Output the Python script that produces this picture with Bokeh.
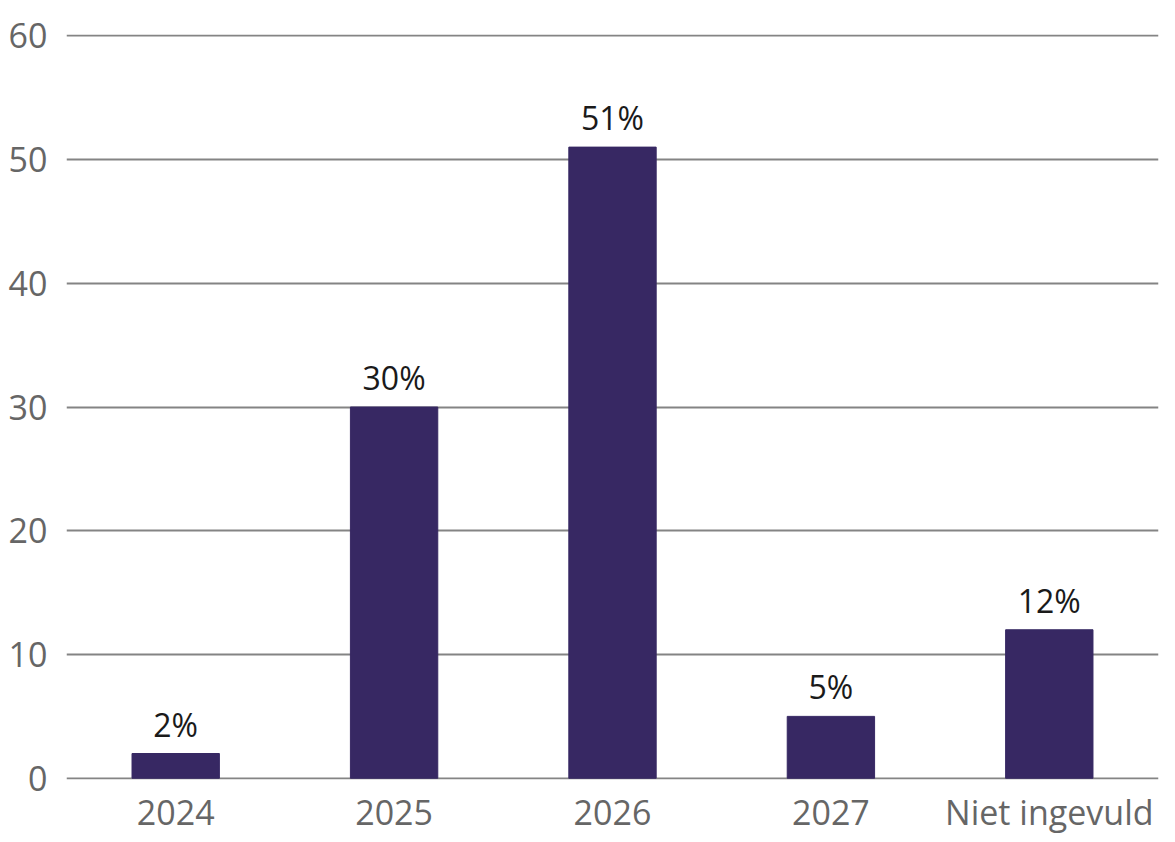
from bokeh.plotting import figure
from bokeh.models import ColumnDataSource, FactorRange, Range1d, FixedTicker
from bokeh.core.properties import value
from bokeh.embed import file_html
from bokeh.resources import INLINE

categories = ["2024", "2025", "2026", "2027", "Niet ingevuld"]
values = [2, 30, 51, 5, 12]
labels = ["2%", "30%", "51%", "5%", "12%"]
y_ticks = [0, 10, 20, 30, 40, 50, 60]

FONT = "Open Sans"
BAR = "#372863"

src = ColumnDataSource(dict(cat=categories, val=values, lab=labels))

p = figure(x_range=FactorRange(*categories), y_range=Range1d(-0.1, 60.1),
           width=1162, height=842, output_backend="svg", toolbar_location=None,
           min_border_left=66, min_border_right=4, min_border_top=34, min_border_bottom=63)
p.outline_line_color = None
p.background_fill_color = "white"
p.border_fill_color = "white"

p.vbar(x="cat", top="val", bottom=0, width=0.4, source=src, color=BAR, line_color=BAR)
p.text(x="cat", y="val", text="lab", source=src, text_align="center",
       text_baseline="bottom", y_offset=-8, text_font=value(FONT),
       text_font_size="32px", text_color="#1a1a1a")

p.xgrid.grid_line_color = None
p.ygrid.grid_line_color = "#848484"
p.ygrid.grid_line_width = 2
p.ygrid.ticker = FixedTicker(ticks=y_ticks)
p.ygrid.level = "underlay"

p.yaxis.ticker = FixedTicker(ticks=y_ticks)
for ax in (p.xaxis[0], p.yaxis[0]):
    ax.axis_line_color = None
    ax.major_tick_line_color = None
    ax.minor_tick_line_color = None
    ax.major_tick_out = 0
    ax.major_tick_in = 0
    ax.minor_tick_out = 0
    ax.minor_tick_in = 0
    ax.major_label_text_font = FONT
    ax.major_label_text_font_size = "34px"
    ax.major_label_text_color = "#666666"
p.yaxis.major_label_standoff = 19
p.xaxis.major_label_standoff = 9

open("out.html", "w").write(file_html(p, INLINE))
